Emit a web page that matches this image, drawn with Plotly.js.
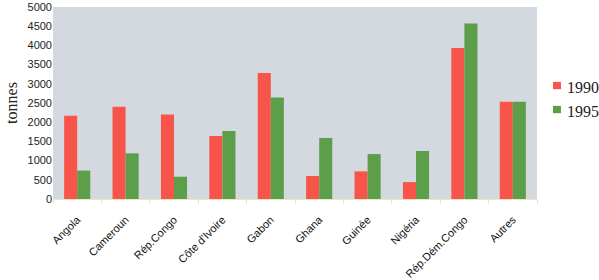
<!DOCTYPE html>
<html><head><meta charset="utf-8">
<script src="https://cdn.plot.ly/plotly-3.0.1.min.js"></script>
<style>html,body{margin:0;padding:0;background:#fff;}#chart{width:599px;height:280px;}</style>
</head><body><div id="chart"></div>
<script>
var categories = ["Angola","Cameroun","Rép.Congo","Côte d'Ivoire","Gabon","Ghana","Guinée","Nigéria","Rép.Dém.Congo","Autres"];
var values1990 = [2170, 2400, 2200, 1640, 3280, 600, 720, 440, 3930, 2530];
var values1995 = [740, 1190, 580, 1770, 2640, 1590, 1170, 1250, 4570, 2530];
var seriesNames = ["1990", "1995"];
var seriesColors = ['#f7544a', '#5d9e4b'];
var yTicks = [0,500,1000,1500,2000,2500,3000,3500,4000,4500,5000];

var data = [
  {type:'bar', name:seriesNames[0], x:categories, y:values1990, marker:{color:seriesColors[0]}},
  {type:'bar', name:seriesNames[1], x:categories, y:values1995, marker:{color:seriesColors[1]}}
];

// custom legend (squares + labels) placed right of the plot
var legendY = [0.591, 0.466];
var shapes = [], annotations = [];
seriesNames.forEach(function(n, i){
  shapes.push({type:'rect', xref:'paper', yref:'paper', x0:1.033, x1:1.0495, y0:legendY[i]-0.019, y1:legendY[i]+0.019,
    fillcolor:seriesColors[i], line:{width:0}});
  annotations.push({xref:'paper', yref:'paper', x:1.058, y:legendY[i]-0.012, xanchor:'left', yanchor:'middle', showarrow:false,
    text:n, font:{family:'Liberation Serif', size:16, color:'#222'}});
});

var layout = {
  width:599, height:280,
  margin:{l:53, r:62, t:7, b:81, pad:0},
  paper_bgcolor:'#ffffff', plot_bgcolor:'#d4d9e0',
  barmode:'group', bargap:0.46, bargroupgap:0,
  showlegend:false,
  shapes:shapes, annotations:annotations,
  xaxis:{tickangle:-45, tickfont:{family:'Liberation Sans, Arial', size:11, color:'#111'}, showgrid:false, zeroline:false, showline:true, linecolor:'#ebe6c4', linewidth:1,
    ticks:'outside', tickson:'boundaries', ticklen:4, tickcolor:'#e2e2e2', ticklabelstandoff:9, ticklabelshift:0, ticklabeloverflow:'allow', automargin:false, fixedrange:true},
  yaxis:{range:[0,5000], tickvals:yTicks, ticktext:yTicks.map(String), tickfont:{family:'Liberation Sans, Arial', size:11, color:'#222'}, showgrid:false, zeroline:false, showline:false, ticks:'', ticklen:0,
    ticklabeloverflow:'allow', automargin:false,
    title:{text:'tonnes', font:{family:'Liberation Serif', size:16, color:'#222'}, standoff:5}, fixedrange:true}
};
Plotly.newPlot('chart', data, layout, {displayModeBar:false, staticPlot:true});
</script></body></html>
